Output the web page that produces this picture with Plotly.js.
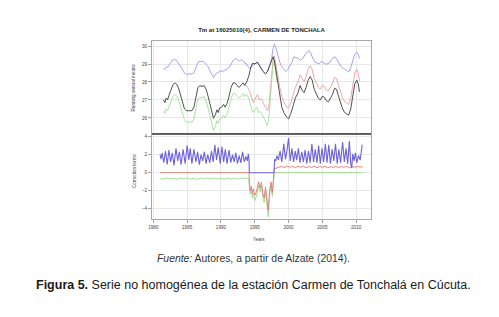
<!DOCTYPE html>
<html>
<head>
<meta charset="utf-8">
<script src="https://cdn.plot.ly/plotly-3.0.1.min.js"></script>
<style>html,body{margin:0;padding:0;background:#fff;}#chart{width:499px;height:317px;}</style>
</head>
<body>
<div id="chart"></div>
<script>
// ---------- DATA ----------
const chartTitle = 'Tm at 16025010(4), CARMEN DE TONCHALA';
const topAxisTitle = 'Running annual means';
const bottomAxisTitle = 'Correction terms';
const xAxisTitle = 'Years';
const sourceText = '<i>Fuente:</i> Autores, a partir de Alzate (2014).';
const captionText = '<b>Figura 5.</b> Serie no homogénea de la estación Carmen de Tonchalá en Cúcuta.';

const xTicks = [1980, 1985, 1990, 1995, 2000, 2005, 2010];
const yTicksTop = [26, 27, 28, 29, 30];
const yTicksBottom = [-4, -2, 0, 2, 4];

// Top panel: running annual means
const yearsBlackTop = [1981.5,1981.7,1981.9,1982.1,1982.3,1982.6,1982.9,1983.2,1983.4,1983.7,1984.0,1984.3,1984.6,1984.9,1985.3,1985.7,1986.0,1986.3,1986.6,1986.9,1987.2,1987.5,1987.8,1988.1,1988.4,1988.7,1988.9,1989.2,1989.4,1989.6,1989.8,1990.1,1990.4,1990.6,1990.9,1991.2,1991.5,1991.8,1992.1,1992.4,1992.7,1993.0,1993.3,1993.5,1993.8,1994.1,1994.4,1994.7,1995.0,1995.4,1995.8,1996.2,1996.6,1996.9,1997.2,1997.5,1997.7,1997.9,1998.1,1998.4,1998.7,1999.0,1999.3,1999.7,2000.0,2000.3,2000.7,2001.0,2001.4,2001.7,2002.0,2002.3,2002.6,2002.9,2003.2,2003.5,2003.8,2004.1,2004.4,2004.7,2005.0,2005.3,2005.6,2005.9,2006.2,2006.5,2006.8,2007.1,2007.4,2007.7,2008.0,2008.3,2008.6,2008.9,2009.2,2009.5,2009.8,2010.1,2010.3,2010.5];
const blackTop = [27.0,26.85,27.1,27.0,27.25,27.6,27.85,27.95,27.9,27.7,27.3,26.9,26.5,26.4,26.42,26.4,26.6,27.2,27.7,27.8,27.75,27.8,27.6,27.2,26.7,26.2,25.98,26.2,26.45,26.3,26.55,26.6,26.75,26.6,26.8,27.2,27.7,27.95,27.95,27.8,27.7,27.85,27.95,27.8,28.0,28.3,28.8,29.05,29.0,29.1,28.85,28.6,28.45,28.6,28.9,29.2,29.4,29.2,28.7,27.9,27.1,26.6,26.3,26.05,25.95,26.2,26.7,27.1,27.4,27.8,27.55,27.4,27.7,28.1,28.3,28.1,27.6,27.35,27.1,27.0,27.2,27.15,26.95,26.9,27.1,27.3,27.65,27.6,27.2,26.8,26.5,26.3,26.2,26.15,26.5,27.2,27.9,28.1,27.9,27.45];

const yearsBlueTop = [1981.5,1981.7,1981.9,1982.2,1982.5,1982.8,1983.1,1983.4,1983.7,1984.0,1984.3,1984.6,1984.9,1985.3,1985.7,1986.0,1986.3,1986.6,1986.9,1987.2,1987.5,1987.8,1988.1,1988.4,1988.7,1988.9,1989.2,1989.4,1989.7,1990.0,1990.3,1990.6,1990.9,1991.2,1991.5,1991.8,1992.1,1992.4,1992.7,1993.0,1993.2,1993.5,1993.8,1994.1,1994.4,1994.7,1995.0,1995.4,1995.8,1996.2,1996.6,1996.9,1997.2,1997.5,1997.7,1997.9,1998.1,1998.4,1998.7,1999.0,1999.3,1999.6,1999.9,2000.2,2000.5,2000.8,2001.1,2001.5,2001.8,2002.1,2002.4,2002.7,2003.0,2003.3,2003.6,2003.9,2004.2,2004.5,2004.8,2005.1,2005.4,2005.7,2006.0,2006.3,2006.6,2006.9,2007.2,2007.5,2007.8,2008.1,2008.4,2008.7,2008.9,2009.2,2009.5,2009.8,2010.1,2010.3,2010.5];
const blueTop = [28.75,28.7,28.82,28.85,29.05,29.2,29.25,29.2,29.05,28.9,28.7,28.5,28.42,28.45,28.45,28.5,28.8,29.1,29.15,29.15,29.1,29.0,28.85,28.6,28.35,28.25,28.45,28.5,28.58,28.62,28.6,28.65,28.72,28.8,29.05,29.2,29.3,29.25,29.15,29.25,29.2,29.05,29.0,28.8,28.75,28.95,29.0,29.1,28.85,28.6,28.45,28.6,28.9,29.3,29.85,30.1,29.95,29.5,29.1,28.85,28.7,28.58,28.7,28.9,29.1,29.4,29.35,29.3,29.2,29.3,29.5,29.65,29.75,29.6,29.3,29.12,29.05,29.0,29.12,29.1,29.0,29.0,29.05,29.2,29.35,29.4,29.2,29.0,28.85,28.75,28.7,28.6,28.55,28.8,29.2,29.55,29.65,29.55,29.3];

const yearsRedTop = [1993.6,1993.9,1994.2,1994.5,1994.8,1995.1,1995.4,1995.7,1996.0,1996.3,1996.6,1996.9,1997.1,1997.4,1997.6,1997.75,1997.9,1998.1,1998.4,1998.7,1999.0,1999.3,1999.7,2000.0,2000.3,2000.7,2001.0,2001.4,2001.7,2002.0,2002.3,2002.6,2002.9,2003.2,2003.5,2003.8,2004.1,2004.4,2004.7,2005.0,2005.3,2005.6,2005.9,2006.2,2006.5,2006.8,2007.1,2007.4,2007.7,2008.0,2008.3,2008.6,2008.9,2009.2,2009.5,2009.8,2010.1,2010.3,2010.5];
const redTop = [27.85,27.75,27.5,27.2,26.85,27.1,27.3,27.0,27.05,26.8,26.6,26.4,26.7,27.8,28.8,29.35,29.45,29.1,28.4,27.7,27.2,26.9,26.6,26.55,26.8,27.3,27.7,28.0,28.4,28.2,28.0,28.3,28.7,28.9,28.7,28.2,27.95,27.7,27.6,27.8,27.75,27.55,27.5,27.7,27.9,28.25,28.2,27.8,27.4,27.1,26.9,26.8,26.75,27.1,27.8,28.5,28.7,28.5,28.05];

const yearsGreenTop = [1981.5,1981.7,1981.9,1982.1,1982.3,1982.6,1982.9,1983.2,1983.4,1983.7,1984.0,1984.3,1984.6,1984.9,1985.3,1985.7,1986.0,1986.3,1986.6,1986.9,1987.2,1987.5,1987.8,1988.1,1988.4,1988.7,1988.9,1989.2,1989.4,1989.6,1989.8,1990.1,1990.4,1990.6,1990.9,1991.2,1991.5,1991.8,1992.1,1992.4,1992.7,1993.0,1993.3,1993.5,1993.8,1994.1,1994.4,1994.7,1995.0,1995.3,1995.6,1995.9,1996.2,1996.5,1996.8,1997.0,1997.2,1997.4,1997.6,1997.75,1997.9,1998.1,1998.3];
const greenTop = [26.4,26.25,26.5,26.4,26.6,26.95,27.2,27.3,27.25,27.05,26.65,26.25,25.9,25.75,25.78,25.75,25.95,26.55,27.05,27.15,27.1,27.2,26.95,26.55,26.05,25.55,25.3,25.55,25.85,25.7,25.95,26.0,26.15,26.0,26.2,26.6,27.1,27.35,27.35,27.2,27.1,27.25,27.35,27.2,27.3,27.1,26.75,26.3,26.45,26.6,26.3,26.35,26.1,25.9,25.6,25.75,26.5,27.6,28.7,29.3,29.15,28.65,28.0];

// Bottom panel: correction terms
const yearsBlueCorr = [1981.0,1981.15,1981.3,1981.55,1981.8,1982.05,1982.3,1982.55,1982.8,1983.05,1983.35,1983.6,1983.85,1984.1,1984.4,1984.7,1985.0,1985.25,1985.45,1985.7,1986.0,1986.3,1986.55,1986.8,1987.05,1987.3,1987.55,1987.8,1988.05,1988.35,1988.6,1988.85,1989.1,1989.35,1989.6,1989.9,1990.15,1990.4,1990.65,1990.9,1991.2,1991.45,1991.7,1991.95,1992.2,1992.45,1992.7,1992.95,1993.2,1993.45,1993.7,1993.9,1994.05,1994.15,1994.2,1997.85,1997.95,1998.1,1998.3,1998.5,1998.75,1999.0,1999.3,1999.55,1999.8,2000.0,2000.25,2000.5,2000.75,2001.0,2001.2,2001.45,2001.7,2001.95,2002.2,2002.45,2002.7,2002.95,2003.2,2003.45,2003.7,2003.95,2004.2,2004.45,2004.7,2004.95,2005.2,2005.45,2005.7,2005.95,2006.2,2006.45,2006.7,2006.95,2007.2,2007.45,2007.7,2008.0,2008.25,2008.5,2008.75,2009.0,2009.2,2009.35,2009.5,2009.7,2009.9,2010.1,2010.35,2010.6,2010.9];
const blueCorr = [2.0,1.5,2.2,1.1,2.4,0.9,2.5,1.2,2.2,0.8,2.7,1.3,2.3,0.9,2.6,1.0,3.0,1.4,2.7,1.0,2.6,1.2,2.3,0.9,2.0,1.3,2.3,1.0,2.0,1.1,2.4,1.2,3.1,1.4,2.8,1.0,2.9,1.2,2.6,1.0,2.5,1.1,2.0,1.2,2.2,1.0,1.9,1.1,2.3,1.2,1.8,1.3,2.1,1.5,0.0,0.0,1.5,1.3,1.9,1.4,2.4,1.2,3.2,1.5,2.6,3.85,1.3,2.7,1.2,2.4,1.4,2.7,1.1,2.3,1.2,2.5,1.0,2.4,1.1,3.2,1.2,2.6,1.1,3.0,1.0,2.7,1.2,3.2,1.1,3.1,1.0,2.6,1.3,3.2,1.0,2.6,1.1,3.4,1.2,2.7,1.0,3.5,1.0,0.5,2.1,1.3,2.2,1.1,1.9,1.4,3.1];

const yearsRedCorr = [1981.0,1994.15,
  1994.2,1994.35,1994.5,1994.65,1994.8,1995.0,1995.2,1995.4,1995.6,1995.8,1996.0,1996.2,1996.4,1996.6,1996.8,1997.0,1997.2,1997.4,1997.6,1997.8,1997.9,
  1998.2,1998.6,1999.0,1999.4,1999.8,2000.2,2000.6,2001.0,2001.4,2001.8,2002.2,2002.6,2003.0,2003.4,2003.8,2004.2,2004.6,2005.0,2005.4,2005.8,2006.2,2006.6,2007.0,2007.4,2007.8,2008.2,2008.6,2009.0,2009.4,2009.8,2010.2,2010.6,2011.0];
const redCorr = [0,0,
  -1.2,-2.0,-1.5,-2.3,-1.8,-2.5,-2.2,-1.4,-1.0,-1.7,-1.1,-2.3,-2.8,-1.6,-2.9,-4.2,-2.0,-1.0,-2.2,-0.6,0.45,
  0.5,0.6,0.7,0.55,0.75,0.6,0.7,0.55,0.7,0.6,0.72,0.55,0.68,0.58,0.7,0.55,0.68,0.6,0.7,0.55,0.66,0.58,0.7,0.55,0.68,0.6,0.7,0.56,0.66,0.6,0.7,0.62,0.66];

const yearsGreenCorr = [1981.0,1981.5,1982.0,1982.5,1983.0,1983.5,1984.0,1984.5,1985.0,1985.5,1986.0,1986.5,1987.0,1987.5,1988.0,1988.5,1989.0,1989.5,1990.0,1990.5,1991.0,1991.5,1992.0,1992.5,1993.0,1993.5,1994.0,1994.15,
  1994.2,1994.35,1994.5,1994.65,1994.8,1995.0,1995.2,1995.4,1995.6,1995.8,1996.0,1996.2,1996.4,1996.6,1996.8,1997.0,1997.2,1997.4,1997.6,1997.8,
  1997.9,2011.0];
const greenCorr = [-0.65,-0.72,-0.6,-0.7,-0.62,-0.75,-0.6,-0.7,-0.58,-0.72,-0.62,-0.76,-0.6,-0.7,-0.6,-0.72,-0.58,-0.7,-0.62,-0.74,-0.6,-0.7,-0.6,-0.72,-0.6,-0.68,-0.62,-0.62,
  -1.6,-2.4,-1.9,-2.8,-2.3,-3.1,-2.7,-1.8,-1.4,-2.1,-1.5,-2.8,-3.3,-2.0,-3.4,-4.9,-2.4,-1.4,-2.6,-0.9,
  0.0,0.0];

// ---------- STYLE ----------
const FONT = 'Liberation Sans, Arial, Helvetica, sans-serif';
const colBlueTop = '#9a9aec', colRedTop = '#e6a0a0', colGreenTop = '#a2dc9c', colBlack = '#3c3c3c';
const colBlueBot = '#6d62d8', colRedBot = '#dc7a74', colGreenBot = '#98d88a';

function line(x, y, color, width, xa, ya) {
  return {x: x, y: y, type: 'scatter', mode: 'lines', xaxis: xa, yaxis: ya,
          line: {color: color, width: width}, hoverinfo: 'skip'};
}

const traces = [
  line(yearsBlueTop, blueTop, colBlueTop, 0.9, 'x2', 'y2'),
  line(yearsRedTop, redTop, colRedTop, 0.9, 'x2', 'y2'),
  line(yearsGreenTop, greenTop, colGreenTop, 0.9, 'x2', 'y2'),
  line(yearsBlackTop, blackTop, colBlack, 0.9, 'x2', 'y2'),
  line(yearsGreenCorr, greenCorr, colGreenBot, 0.9, 'x', 'y'),
  line(yearsRedCorr, redCorr, colRedBot, 0.9, 'x', 'y'),
  line(yearsBlueCorr, blueCorr, colBlueBot, 1.1, 'x', 'y')
];

const tickFont = {family: FONT, size: 4.6, color: '#444'};
const baseAxis = {
  showline: true, linecolor: '#a8a8a8', linewidth: 1, mirror: true,
  showgrid: true, gridcolor: '#e8e8e8', gridwidth: 1, zeroline: false,
  tickfont: tickFont, ticks: 'outside', ticklen: 3, tickwidth: 0.7, tickcolor: '#777'
};
const split = 0.478;

const layout = {
  width: 499, height: 317, autosize: false,
  margin: {l: 152, r: 128, t: 41, b: 98, pad: 0},
  paper_bgcolor: '#ffffff', plot_bgcolor: '#ffffff',
  showlegend: false,
  font: {family: FONT, color: '#222'},
  title: {text: '<b>' + chartTitle + '</b>', font: {family: FONT, size: 6, color: '#222'},
          xref: 'paper', x: 0.5, xanchor: 'center', yref: 'container', y: 1 - 30/317, yanchor: 'middle'},
  xaxis: Object.assign({}, baseAxis, {range: [1979.8, 2012.2], tickvals: xTicks, anchor: 'y'}),
  yaxis: Object.assign({}, baseAxis, {domain: [0, split], range: [-5.14, 4.3], tickvals: yTicksBottom, anchor: 'x'}),
  xaxis2: Object.assign({}, baseAxis, {range: [1979.8, 2012.2], tickvals: xTicks, anchor: 'y2', showticklabels: false, ticks: ''}),
  yaxis2: Object.assign({}, baseAxis, {domain: [split, 1], range: [25.11, 30.28], tickvals: yTicksTop, anchor: 'x2'}),
  shapes: [
    {type: 'line', xref: 'x domain', yref: 'y domain', x0: 0, x1: 1, y0: 1, y1: 1,
     line: {color: '#555', width: 1.6}}
  ],
  annotations: [
    {text: topAxisTitle, textangle: -90, xref: 'paper', yref: 'paper', x: -19/219, y: (split + 1) / 2,
     xanchor: 'center', yanchor: 'middle', showarrow: false, font: {family: FONT, size: 4.6, color: '#444'}},
    {text: bottomAxisTitle, textangle: -90, xref: 'paper', yref: 'paper', x: -18/219, y: split / 2 + 0.03,
     xanchor: 'center', yanchor: 'middle', showarrow: false, font: {family: FONT, size: 4.6, color: '#444'}},
    {text: xAxisTitle, xref: 'paper', yref: 'paper', x: 0.49, y: -20/178,
     xanchor: 'center', yanchor: 'middle', showarrow: false, font: {family: FONT, size: 4.6, color: '#444'}},
    {text: sourceText, xref: 'paper', yref: 'paper', x: 101/219, y: -39/178,
     xanchor: 'center', yanchor: 'middle', showarrow: false, font: {family: FONT, size: 10.4, color: '#333'}},
    {text: captionText, xref: 'paper', yref: 'paper', x: 101/219, y: -66/178,
     xanchor: 'center', yanchor: 'middle', showarrow: false, font: {family: FONT, size: 12.5, color: '#1a1a1a'}}
  ]
};

Plotly.newPlot('chart', traces, layout, {staticPlot: true, displayModeBar: false});
</script>
</body>
</html>
